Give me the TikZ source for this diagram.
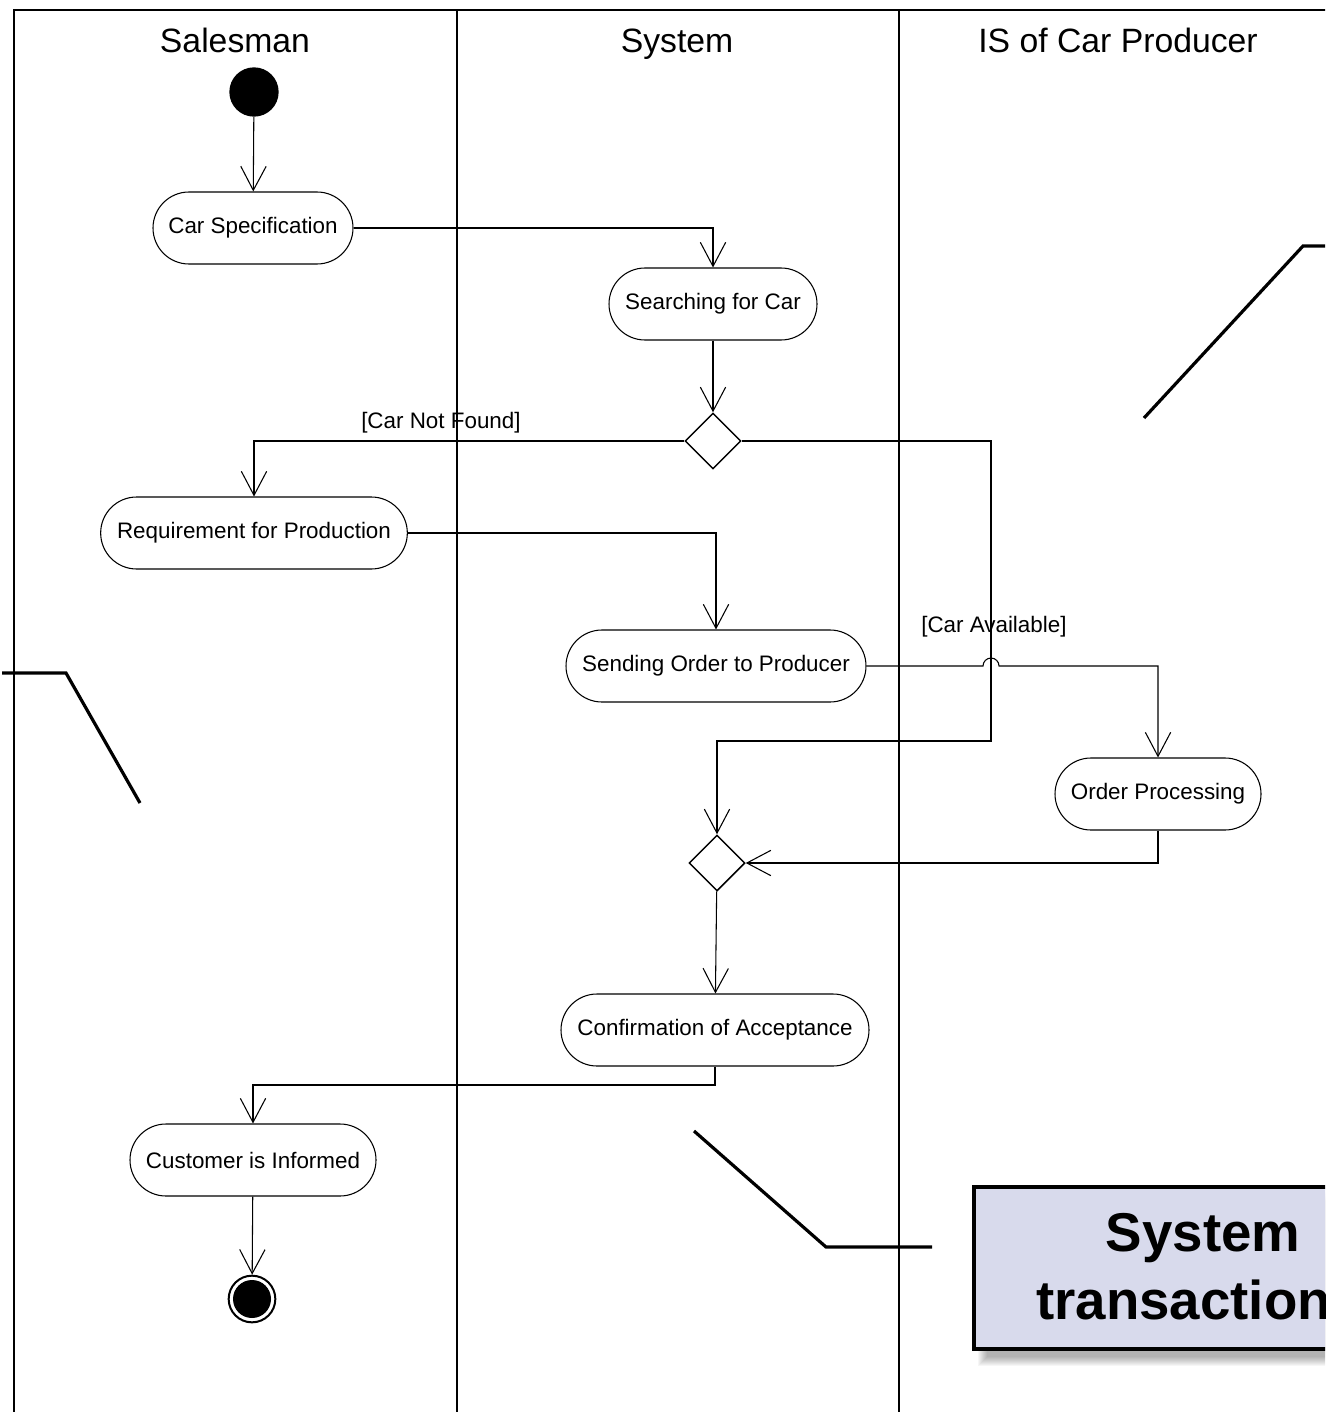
\documentclass[tikz,border=0pt]{standalone}
\usepackage{fontspec}
\setmainfont{Liberation Sans}
\usetikzlibrary{arrows.meta,shapes.geometric}
\definecolor{boxfill}{RGB}{216,218,236}
\tikzset{
  act/.style={draw, line width=0.8pt, rounded corners=27pt, minimum height=54pt, inner sep=0pt, font=\fontsize{16.8}{20}\selectfont},
  dec/.style={draw, diamond, line width=1.1pt, minimum width=42pt, minimum height=42pt, inner sep=0pt},
  flow/.style={draw, line width=0.8pt, -{Straight Barb[length=18pt,width=19pt]}},
  lane/.style={line width=1.5pt},
  callout/.style={line width=2.4pt, line join=miter},
  lanetitle/.style={font=\fontsize{25.3}{30}\selectfont, inner sep=0pt, anchor=base},
  guard/.style={font=\fontsize{16.8}{20}\selectfont, inner sep=0pt},
}
\begin{document}
\begin{tikzpicture}[x=0.75pt,y=-0.75pt]
\useasboundingbox (0,0) rectangle (1325,1412);
\clip (0,0) rectangle (1325,1412);
% frame and lanes
\draw[lane] (14,1500) -- (14,10) -- (1500,10);
\draw[lane] (457,10) -- (457,1500);
\draw[lane] (899,10) -- (899,1500);
\node[lanetitle] (t1) at (235,53) {Salesman};
\node[lanetitle] (t2) at (677,53) {System};
\node[lanetitle] (t3) at (1118,53) {IS of Car Producer};
% nodes
\node[circle, fill=black, minimum size=37pt, inner sep=0pt] (ini) at (254,92) {};
\node[act, minimum width=150pt] (cs) at (253,228) {Car Specification};
\node[act, minimum width=156pt] (sc) at (713,304) {Searching for Car};
\node[dec] (d1) at (713,441) {};
\node[act, minimum width=230pt] (req) at (254,533) {Requirement for Production};
\node[act, minimum width=225pt] (so) at (716,666) {Sending Order to Producer};
\node[act, minimum width=154.5pt] (op) at (1158,794) {Order Processing};
\node[dec] (d2) at (717,863) {};
\node[act, minimum width=231pt] (conf) at (715,1030) {Confirmation of Acceptance};
\node[act, minimum width=184.5pt] (cust) at (253,1160) {Customer is Informed};
\node[circle, draw, line width=1.5pt, minimum size=35pt, inner sep=0pt] (fin) at (252,1299) {};
\node[circle, fill=black, minimum size=28.5pt, inner sep=0pt] (fincore) at (fin.center) {};
% guards
\node[guard, anchor=west] (g1) at (361,423) {[Car Not Found]};
\node[guard, anchor=west] (g2) at (921,627) {[Car Available]};
% bend coordinates
\coordinate (a1) at (991,441);
\coordinate (a2) at (991,741);
\coordinate (j1) at (983,666);
\coordinate (k1) at (715,1085);
% connectors
\draw[flow] (ini) -- (cs);
\draw[flow] (cs.east) -| (sc.north);
\draw[flow] (sc) -- (d1);
\draw[flow] (d1.west) -| (req.north);
\draw[flow] (d1.east) -- (a1) -- (a2) -| (d2.north);
\draw[flow] (req.east) -| (so.north);
\draw[flow] (so.east) -- (j1) arc[start angle=180, end angle=0, radius=6pt] -| (op.north);
\draw[flow] (op.south) |- (d2.east);
\draw[flow] (d2) -- (conf);
\draw[flow] (conf.south) -- (k1) -| (cust.north);
\draw[flow] (cust) -- (fin);
% callout lines
\draw[callout] (2,673) -- (66,673) -- (140,803);
\draw[callout] (1144,418) -- (1303,246) -- (1340,246);
\draw[callout] (694,1131) -- (826,1247) -- (932,1247);
% shadow
\foreach \i in {0,...,9} {
  \fill[black, opacity=0.035] (978+\i,1192+\i) rectangle (1460,1366-\i);
}
\node[draw, line width=2.4pt, fill=boxfill, minimum width=343.5pt, minimum height=121.5pt, inner sep=0pt] (box) at (1203,1268) {};
\node[font=\fontsize{41}{48}\bfseries\selectfont, inner sep=0pt] (bt1) at (1203,1238) {System};
\node[font=\fontsize{41}{48}\bfseries\selectfont, inner sep=0pt, anchor=west] (bt2) at (1036,1300) {transaction};
\end{tikzpicture}
\end{document}
